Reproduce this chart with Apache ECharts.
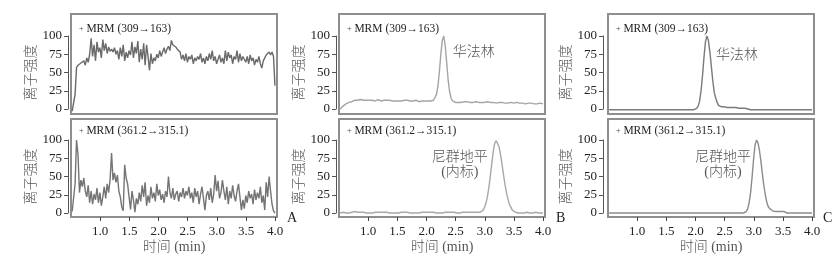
<!DOCTYPE html>
<html>
<head>
<meta charset="utf-8">
<script src="https://cdn.jsdelivr.net/npm/echarts@6/dist/echarts.min.js"></script>
<style>
  html, body { margin: 0; background: #fff; }
  #chart { width: 840px; height: 260px; }
</style>
</head>
<body>
<div id="chart"></div>
<script>
// sampling of every trace: first time point and step (min)
const timeStart = 0.52
const timeStep = 0.025

const xTicks = [1.0, 1.5, 2.0, 2.5, 3.0, 3.5, 4.0]
const panelLetters = ['A', 'B', 'C']
const topTitle = '+ MRM (309→163)'
const bottomTitle = '+ MRM (361.2→315.1)'
const warfarinLabel = '华法林'
const nitrendipineLabel = '尼群地平\n(内标)'

// A: blank, 10 values per row (row k starts at 0.52 + 0.25k)
const aTop = [
  -3, -2, 20, 57, 60, 58, 63, 61, 66, 60,
  70, 64, 75, 97, 72, 88, 66, 92, 78, 84,
  70, 95, 80, 90, 76, 85, 79, 82, 78, 84,
  75, 80, 68, 84, 72, 88, 66, 78, 70, 80,
  74, 92, 70, 85, 76, 93, 64, 82, 68, 90,
  60, 88, 72, 53, 76, 62, 70, 66, 75, 70,
  80, 72, 78, 84, 76, 82, 86, 80, 94, 88,
  90, 85, 82, 84, 78, 68, 74, 66, 76, 64,
  72, 68, 74, 62, 70, 66, 72, 68, 76, 64,
  70, 62, 72, 66, 76, 68, 80, 66, 72, 62,
  68, 74, 64, 70, 62, 80, 66, 78, 70, 74,
  62, 72, 68, 80, 64, 76, 66, 72, 70, 64,
  72, 62, 74, 66, 70, 60, 68, 64, 72, 62,
  56, 66, 70, 74, 76, 78, 74, 78, 72, 32
]
const aBottom = [
  2, 3, 40, 100, 80, 28, 45, 36, 48, 30,
  22, 38, 14, 30, 12, 26, 18, 34, 14, 28,
  10, 22, 36, 20, 40, 28, 46, 82, 45, 55,
  42, 52, 30, 22, 8, 3, 66, 48, 40, 22,
  5, 30, 18, 1, 20, 12, 28, 16, 38, 22,
  42, 10, 24, 14, 36, 20, 28, 16, 40, 24,
  32, 18, 26, 14, 30, 22, 50, 28, 20, 34,
  18, 26, 30, 16, 28, 22, 34, 20, 30, 24,
  36, 20, 28, 14, 34, 22, 30, 12, 26, 36,
  20, 4, 24, 30, 18, 34, 14, 26, 52, 30,
  44, 20, 28, 45, 30, 18, 36, 12, 30, 20,
  38, 24, 16, 30, 40, 22, 4, 18, 6, 24,
  14, 30, 20, 26, 12, 32, 18, 28, 20, 36,
  14, 24, 4, 42, 22, 50, 30, 12, 3, 0
]

// B
const bTop = [
  0, 2, 4, 6, 7, 8, 9, 10, 10, 11,
  12, 11, 12, 12, 13, 12, 12, 11, 12, 13,
  12, 11, 12, 12, 11, 12, 13, 12, 11, 12,
  12, 11, 12, 11, 12, 12, 11, 12, 11, 12,
  11, 12, 11, 11, 12, 11, 12, 11, 11, 12,
  11, 11, 12, 11, 10, 11, 11, 12, 11, 11,
  11, 10, 11, 11, 12, 14, 20, 31, 51, 75,
  94, 100, 87, 64, 40, 24, 15, 11, 10, 9,
  10, 9, 10, 9, 9, 10, 9, 10, 9, 9,
  10, 9, 9, 10, 9, 9, 10, 9, 8, 9,
  9, 10, 9, 9, 8, 9, 9, 8, 9, 9,
  8, 9, 9, 8, 9, 8, 8, 9, 8, 8,
  8, 9, 8, 8, 7, 8, 8, 7, 8, 8,
  7, 8, 7, 7, 8, 7, 7, 8, 7, 7
]
const bBottom = [
  0, 0, 1, 0, 0, 1, 0, 1, 1, 1,
  2, 1, 1, 0, 1, 0, 1, 1, 0, 1,
  0, 1, 0, 1, 1, 0, 1, 0, 1, 0,
  1, 0, 1, 1, 0, 1, 0, 1, 0, 1,
  0, 1, 1, 0, 1, 0, 1, 1, 0, 1,
  0, 1, 0, 1, 0, 1, 1, 0, 1, 0,
  1, 0, 1, 0, 1, 1, 0, 1, 0, 1,
  0, 1, 1, 0, 1, 0, 1, 0, 1, 1,
  0, 1, 0, 1, 1, 0, 1, 0, 1, 0,
  1, 0, 1, 1, 1, 1, 1, 2, 4, 8,
  14, 23, 36, 52, 69, 85, 96, 99, 97, 90,
  79, 66, 52, 39, 28, 19, 12, 8, 4, 2,
  1, 1, 0, 1, 0, 1, 0, 0, 1, 0,
  0, 1, 0, 0, 1, 0, 0, 1, 0, 0
]

// C
const cTop = [
  -1, -1, -1, -1, -1, -1, -1, -1, -1, -1,
  -1, -1, -1, -1, -1, -1, -1, -1, -1, -1,
  -1, -1, -1, -1, -1, -1, -1, -1, -1, -1,
  -1, -1, -1, -1, -1, -1, -1, -1, -1, -1,
  -1, -1, -1, -1, -1, -1, -1, -1, -1, -1,
  -1, -1, -1, -1, -1, -1, -1, -1, -1, -1,
  1, 4, 11, 25, 46, 71, 92, 100, 94, 79,
  59, 39, 23, 15, 9, 5, 4, 3, 3, 3,
  3, 2, 2, 2, 2, 2, 2, 2, 1, 1,
  1, 1, 1, 1, 0, 0, -1, -1, -1, -1,
  -1, -1, -1, -1, -1, -1, -1, -1, -1, -1,
  -1, -1, -1, -1, -1, -1, -1, -1, -1, -1,
  -1, -1, -1, -1, -1, -1, -1, -1, -1, -1,
  -1, -1, -1, -1, -1, -1, -1, -1, -1, -1
]
const cBottom = [
  0, 0, 0, 0, 0, 0, 0, 0, 0, 0,
  0, 0, 0, 0, 0, 0, 0, 0, 0, 0,
  0, 0, 0, 0, 0, 0, 0, 0, 0, 0,
  0, 0, 0, 0, 0, 0, 0, 0, 0, 0,
  0, 0, 0, 0, 0, 0, 0, 0, 0, 0,
  0, 0, 0, 0, 0, 0, 0, 0, 0, 0,
  0, 0, 0, 0, 0, 0, 0, 0, 0, 0,
  0, 0, 0, 0, 0, 0, 0, 0, 0, 0,
  0, 0, 0, 0, 0, 0, 0, 0, 0, 0,
  0, 0, 0, 1, 2, 6, 15, 29, 50, 74,
  93, 100, 96, 86, 71, 54, 38, 25, 15, 9,
  6, 4, 3, 2, 2, 2, 2, 2, 2, 2,
  2, 1, 0, 0, 0, 0, 0, 0, 0, 0,
  0, 0, 0, 0, 0, 0, 0, 0, 0, 0
]

const serif = "'Liberation Serif', 'Noto Sans CJK SC', serif"
const xMin = 0.5
const xMax = 4.03

// layout of the three columns
const columns = [
  {left: 71, width: 206, offset: 3, nameGap: 29, letterLeft: 282,
   top: aTop, bottom: aBottom, topColor: '#6a6a6a', bottomColor: '#747474',
   topNote: null, bottomNote: null},
  {left: 339, width: 206, offset: 3, nameGap: 27, letterLeft: 551,
   top: bTop, bottom: bBottom, topColor: '#a4a4a4', bottomColor: '#a8a8a8',
   topNote: [2.81, 78], bottomNote: [2.57, 66]},
  {left: 608, width: 206, offset: 5, nameGap: 27, letterLeft: 818,
   top: cTop, bottom: cBottom, topColor: '#7a7a7a', bottomColor: '#8c8c8c',
   topNote: [2.71, 74], bottomNote: [2.47, 66]}
]

// vertical layout: frame box and the 0..100 area inside it
const rows = [
  {frameTop: 14, frameHeight: 100, dataTop: 36, title: topTitle, titleTop: 18},
  {frameTop: 119, frameHeight: 98, dataTop: 140, title: bottomTitle, titleTop: 120}
]

const toSeries = values => values.map((v, i) => [timeStart + i * timeStep, v])

const cjkText = {fontSize: 14, fontFamily: serif, fontWeight: 300, color: '#555'}

const grid = [], xAxis = [], yAxis = [], series = [], title = []

columns.forEach((col, c) => {
  rows.forEach((row, r) => {
    const isBottom = r === 1
    const frameIdx = grid.length
    grid.push({
      left: col.left, width: col.width, top: row.frameTop, height: row.frameHeight,
      show: true, borderColor: '#8e8e8e', borderWidth: 2, backgroundColor: 'transparent'
    })
    xAxis.push({
      gridIndex: frameIdx, type: 'value', min: xMin, max: xMax,
      show: isBottom,
      axisLine: {show: true, lineStyle: {color: '#8e8e8e', width: 1}},
      axisTick: {show: true, customValues: xTicks, length: 4, lineStyle: {color: '#444'}},
      axisLabel: {customValues: xTicks, formatter: v => v.toFixed(1), fontSize: 13,
        fontFamily: serif, color: '#222', margin: 8},
      splitLine: {show: false},
      name: '时间 (min)', nameLocation: 'middle', nameGap: 23,
      nameTextStyle: cjkText
    })
    yAxis.push({gridIndex: frameIdx, type: 'value', min: 0, max: 1, show: false})

    const dataIdx = grid.length
    grid.push({left: col.left, width: col.width, top: row.dataTop, height: 73})
    xAxis.push({gridIndex: dataIdx, type: 'value', min: xMin, max: xMax, show: false})
    yAxis.push({
      gridIndex: dataIdx, type: 'value', min: 0, max: 100, interval: 25,
      offset: col.offset,
      axisLine: {show: true, lineStyle: {color: '#555'}},
      axisTick: {show: true, length: 4, lineStyle: {color: '#555'}},
      axisLabel: {fontSize: 13, fontFamily: serif, color: '#222', margin: 6},
      splitLine: {show: false},
      name: '离子强度', nameLocation: 'middle', nameGap: col.nameGap, nameRotate: 90,
      nameTextStyle: cjkText
    })

    const note = isBottom ? col.bottomNote : col.topNote
    series.push({
      type: 'line', xAxisIndex: dataIdx, yAxisIndex: dataIdx,
      data: toSeries(isBottom ? col.bottom : col.top),
      showSymbol: false, clip: false, silent: true,
      lineStyle: {width: 1.4, color: isBottom ? col.bottomColor : col.topColor},
      markPoint: note ? {
        symbol: 'circle', symbolSize: 1, silent: true,
        itemStyle: {color: 'rgba(0,0,0,0)'},
        label: Object.assign({show: true, position: 'inside', lineHeight: 15,
          formatter: isBottom ? nitrendipineLabel : warfarinLabel}, cjkText),
        data: [{coord: note}]
      } : undefined
    })

    title.push({
      text: row.title.replace('+', '{p|+}'), left: col.left + 3, top: row.titleTop,
      textStyle: {fontSize: 11.5, fontFamily: serif, fontWeight: 'normal', color: '#222',
        rich: {p: {fontSize: 8, fontFamily: serif, color: '#444'}}}
    })
  })
  title.push({
    text: panelLetters[c], left: col.letterLeft, top: 206,
    textStyle: {fontSize: 14, fontFamily: serif, fontWeight: 'normal', color: '#222'}
  })
})

const chart = echarts.init(document.getElementById('chart'))
chart.setOption({
  backgroundColor: '#fff',
  animation: false,
  title, grid, xAxis, yAxis, series
})
</script>
</body>
</html>
